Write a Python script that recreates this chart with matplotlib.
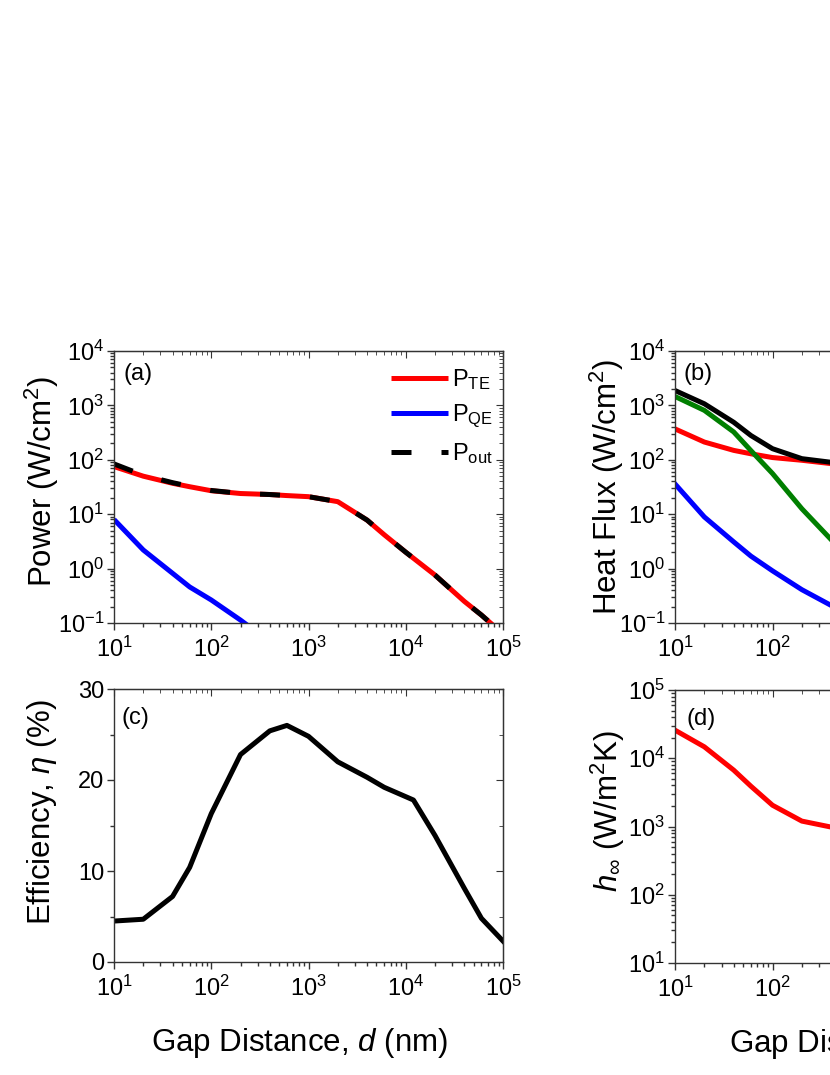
import matplotlib
matplotlib.use("Agg")
import matplotlib.pyplot as plt
from matplotlib.ticker import MultipleLocator, LogLocator, NullFormatter

plt.rcParams['font.family'] = ['Liberation Sans', 'DejaVu Sans']
plt.rcParams['mathtext.fontset'] = 'custom'
plt.rcParams['mathtext.rm'] = 'Liberation Sans'
plt.rcParams['mathtext.it'] = 'Liberation Sans:italic'
plt.rcParams['mathtext.bf'] = 'Liberation Sans:bold'
plt.rcParams['axes.unicode_minus'] = False

# ---------------- data ----------------
# (a) power
gap_a = [10, 20, 40, 60, 100, 200, 400, 600, 1000, 2000, 4000, 6000, 10000, 20000, 40000, 60000, 100000]
p_te = [75, 50, 37, 32, 27, 24, 23, 22, 21, 17, 7.8, 4.2, 2.0, 0.76, 0.25, 0.14, 0.063]
p_out = [84, 52, 38, 32.5, 27.3, 24.1, 23, 22, 21, 17, 7.8, 4.2, 2.0, 0.76, 0.25, 0.14, 0.063]
gap_qe = [10, 20, 40, 60, 100, 200, 400]
p_qe = [8.0, 2.2, 0.82, 0.46, 0.265, 0.113, 0.045]

# (b) heat flux (visible part)
gap_b = [10, 20, 40, 60, 100, 200, 400, 600]
q_total = [1880, 1070, 490, 280, 160, 105, 90, 86]
q_red = [370, 212, 149, 129, 110, 98, 85, 82]
q_green = [1460, 810, 325, 148, 56, 12.6, 3.4, 1.6]
q_blue = [36, 8.9, 3.1, 1.7, 0.91, 0.41, 0.21, 0.14]

# (c) efficiency
gap_c = [10, 20, 40, 60, 100, 200, 400, 600, 1000, 2000, 4000, 6000, 12000, 20000, 40000, 60000, 100000]
eff = [4.5, 4.7, 7.2, 10.4, 16.3, 22.8, 25.4, 26.0, 24.8, 22.0, 20.3, 19.2, 17.8, 13.9, 8.1, 4.8, 2.3]

# (d) heat transfer coefficient (visible part)
gap_d = [10, 20, 40, 60, 100, 200, 400, 600]
h_inf = [25800, 14700, 6700, 3900, 2050, 1200, 980, 930]

# ---------------- figure ----------------
W, H = 830, 1075
fig = plt.figure(figsize=(W / 100, H / 100), dpi=100)

def box(l, t, w, h):
    return [l / W, (H - t - h) / H, w / W, h / H]

axa = fig.add_axes(box(114, 351, 389, 272))
axc = fig.add_axes(box(114, 689, 389, 273))
axb = fig.add_axes(box(675, 351, 390, 272))
axd = fig.add_axes(box(675, 690, 390, 273))

spine_c = '#333333'
LW = 3.6
TICK_FS = 17
LAB_FS = 22.5

def style(ax, logy=True):
    ax.set_xscale('log')
    ax.set_xlim(10, 1e5)
    for s in ax.spines.values():
        s.set_color(spine_c)
        s.set_linewidth(1.0)
    ax.tick_params(which='both', direction='out', color=spine_c, width=1.0,
                   labelsize=TICK_FS, top=False, right=False)
    ax.tick_params(which='major', length=5)
    ax.tick_params(which='minor', length=3)
    ax.tick_params(axis='x', which='major', pad=5)
    ax.tick_params(axis='y', which='major', pad=2)
    ax.xaxis.set_major_locator(LogLocator(base=10, numticks=10))
    ax.xaxis.set_minor_locator(LogLocator(base=10, subs=range(2, 10), numticks=20))
    ax.xaxis.set_minor_formatter(NullFormatter())
    sx = ax.secondary_xaxis('top')
    sx.tick_params(which='both', direction='in', color=spine_c, labeltop=False)
    sx.tick_params(which='major', length=5)
    sx.tick_params(which='minor', length=3)
    sx.xaxis.set_major_locator(LogLocator(base=10, numticks=10))
    sx.xaxis.set_minor_locator(LogLocator(base=10, subs=range(2, 10), numticks=20))
    sx.xaxis.set_minor_formatter(NullFormatter())
    sx.spines['top'].set_color(spine_c)
    sy = ax.secondary_yaxis('right')
    sy.tick_params(which='both', direction='in', color=spine_c, labelright=False)
    sy.tick_params(which='major', length=5)
    sy.tick_params(which='minor', length=3)
    sy.spines['right'].set_color(spine_c)
    if logy:
        for a in (ax, sy):
            a.yaxis.set_major_locator(LogLocator(base=10, numticks=10))
            a.yaxis.set_minor_locator(LogLocator(base=10, subs=range(2, 10), numticks=20))
            a.yaxis.set_minor_formatter(NullFormatter())
    else:
        for a in (ax, sy):
            a.yaxis.set_major_locator(MultipleLocator(10))
            a.yaxis.set_minor_locator(MultipleLocator(5))
    return sx, sy

# (a)
axa.set_yscale('log')
axa.set_ylim(0.1, 1e4)
la1, = axa.plot(gap_a, p_te, color='#ff0000', lw=LW, solid_capstyle='butt')
la2, = axa.plot(gap_qe, p_qe, color='#0000ff', lw=LW, solid_capstyle='butt')
la3, = axa.plot(gap_a, p_out, color='black', lw=LW, dashes=(4.0, 6.0), dash_capstyle='butt')
style(axa)
axa.text(0.025, 0.955, '(a)', transform=axa.transAxes, fontsize=17, ha='left', va='top')
axa.set_ylabel('Power (W/cm$^2$)', fontsize=LAB_FS)
axa.yaxis.set_label_coords(-0.185, 0.52)
axa.yaxis.label.set_verticalalignment('center')
axa.legend([la1, la2, la3], ['P$_{\\mathrm{TE}}$', 'P$_{\\mathrm{QE}}$', 'P$_{\\mathrm{out}}$'],
           loc='upper left', bbox_to_anchor=(0.712, 0.94), frameon=False, fontsize=17,
           handlelength=2.4, handletextpad=0.2, labelspacing=0.45, borderpad=0, borderaxespad=0)

# (b)
axb.set_yscale('log')
axb.set_ylim(0.1, 1e4)
axb.plot(gap_b, q_red, color='#ff0000', lw=LW)
axb.plot(gap_b, q_green, color='#007f00', lw=LW)
axb.plot(gap_b, q_total, color='black', lw=LW)
axb.plot(gap_b, q_blue, color='#0000ff', lw=LW)
style(axb)
axb.text(0.023, 0.955, '(b)', transform=axb.transAxes, fontsize=17, ha='left', va='top')
axb.set_ylabel('Heat Flux (W/cm$^2$)', fontsize=LAB_FS)
axb.yaxis.set_label_coords(-0.174, 0.5)
axb.yaxis.label.set_verticalalignment('center')

# (c)
axc.set_ylim(0, 30)
axc.plot(gap_c, eff, color='black', lw=LW)
style(axc, logy=False)
axc.text(0.02, 0.935, '(c)', transform=axc.transAxes, fontsize=17, ha='left', va='top')
axc.set_ylabel('Efficiency, $\\eta$ (%)', fontsize=LAB_FS)
axc.yaxis.set_label_coords(-0.185, 0.55)
axc.yaxis.label.set_verticalalignment('center')
axc.set_xlabel('Gap Distance, $d$ (nm)', fontsize=LAB_FS)
axc.xaxis.set_label_coords(0.478, -0.297)
axc.xaxis.label.set_verticalalignment('center')

# (d)
axd.set_yscale('log')
axd.set_ylim(10, 1e5)
axd.plot(gap_d, h_inf, color='#ff0000', lw=LW)
style(axd)
axd.text(0.03, 0.935, '(d)', transform=axd.transAxes, fontsize=17, ha='left', va='top')
axd.set_ylabel('$h_{\\infty}$ (W/m$^2$K)', fontsize=LAB_FS)
axd.yaxis.set_label_coords(-0.172, 0.555)
axd.yaxis.label.set_verticalalignment('center')
axd.set_xlabel('Gap Distance, $d$ (nm)', fontsize=LAB_FS)
axd.xaxis.set_label_coords(0.52, -0.297)
axd.xaxis.label.set_verticalalignment('center')

fig.savefig('out.png', dpi=100)
